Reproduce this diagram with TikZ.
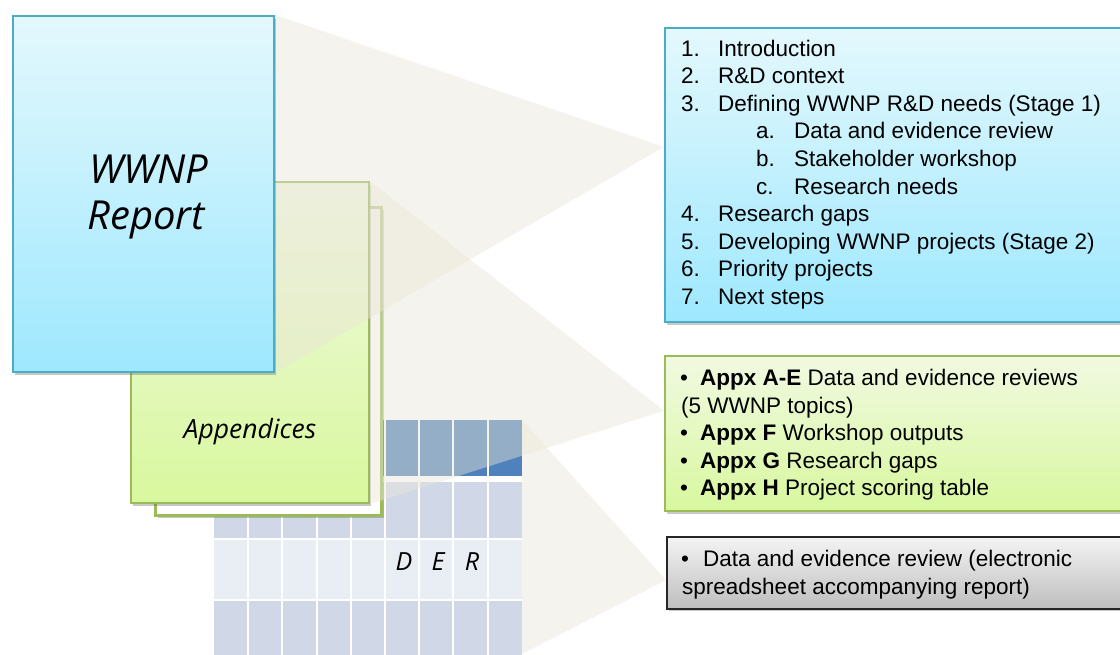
\documentclass[tikz,border=0pt]{standalone}
\usepackage{fontspec}
\setmainfont{Liberation Sans}
\newfontfamily\handfont{Open Sans}
\usetikzlibrary{shadows,calc}
\definecolor{repTop}{HTML}{E4F8FD}
\definecolor{repBot}{HTML}{9EE8FE}
\definecolor{repLine}{HTML}{4BACC6}
\definecolor{grnTop}{HTML}{F1F9E2}
\definecolor{grnBot}{HTML}{D8F89E}
\definecolor{grnLine}{HTML}{9BBB59}
\definecolor{gryTop}{HTML}{F4F4F4}
\definecolor{gryBot}{HTML}{BEBEBE}
\definecolor{hdrBlue}{HTML}{4F81BD}
\definecolor{rowA}{HTML}{D0D8E8}
\definecolor{rowB}{HTML}{E9EDF4}
\definecolor{beamCol}{RGB}{233,229,215}
\pgfdeclarelayer{back}
\pgfdeclarelayer{beamlayer}
\pgfsetlayers{back,beamlayer,main}
\begin{document}
\begin{tikzpicture}[x=1pt,y=-1pt,
  shade/.style={drop shadow={shadow xshift=2pt,shadow yshift=-2.5pt,opacity=0.3,fill=black!70}},
  repbox/.style={rectangle,draw=repLine,line width=2pt,top color=repTop,bottom color=repBot,shade,inner sep=0},
  grnbox/.style={rectangle,draw=grnLine,line width=2pt,top color=grnTop,bottom color=grnBot,shade,inner sep=0},
  backbox/.style={rectangle,draw=grnLine,line width=3pt,fill=white,shade,inner sep=0},
  grybox/.style={rectangle,draw=black!85,line width=1.5pt,top color=gryTop,bottom color=gryBot,shade,inner sep=0},
  beam/.style={fill=beamCol,fill opacity=0.45},
  hand/.style={font=\handfont\itshape\fontsize{40}{46}\selectfont,inner sep=0,anchor=base},
  handsm/.style={font=\handfont\itshape\fontsize{25}{29}\selectfont,inner sep=0,anchor=base},
  txt/.style={font=\fontsize{22.5}{27}\selectfont,inner sep=0,anchor=base west},
  cellline/.style={white,line width=2pt}
]
\useasboundingbox (0,0) rectangle (1120,654);
\clip (0,0) rectangle (1120,654);

\begin{pgfonlayer}{back}
  % spreadsheet
  \fill[hdrBlue] (214,420) rectangle (522,476);
  \fill[rowA] (214,482) rectangle (522,538);
  \fill[rowB] (214,540) rectangle (522,599);
  \fill[rowA] (214,601) rectangle (522,660);
  \foreach \i in {1,...,8}
    \draw[cellline] ({214+34.2*\i},418) -- ({214+34.2*\i},660);
  \coordinate (gridTR) at (522,420);
  \coordinate (gridBR) at (522,654);
  \node[handsm] (derD) at (404,570) {D};
  \node[handsm] (derE) at (438,570) {E};
  \node[handsm] (derR) at (472,570) {R};
  % appendices
  \node[backbox,anchor=north west,minimum width=226,minimum height=308] (appxback) at (154,206) {};
  \node[grnbox,anchor=north west,minimum width=238,minimum height=321] (appx) at (130,181) {};
  \node[handsm,font=\handfont\itshape\fontsize{26.5}{30}\selectfont] (appxlbl) at (250,438) {Appendices};
\end{pgfonlayer}

% report
\node[repbox,anchor=north west,minimum width=261,minimum height=356] (report) at (12,15) {};
\node[hand] (rep1) at (149,183) {WWNP};
\node[hand] (rep2) at (146,229) {Report};

% right boxes
\node[repbox,anchor=north west,minimum width=480,minimum height=294] (toc) at (664,27) {};
\node[grnbox,anchor=north west,minimum width=480,minimum height=155] (appxbox) at (664,355) {};
\node[grybox,anchor=north west,minimum width=480,minimum height=72] (der) at (666,536) {};

% TOC text
\node[txt] (n1) at (681,56) {1.};   \node[txt] (t1) at (718,56) {Introduction};
\node[txt] (n2) at (681,83.6) {2.}; \node[txt] (t2) at (718,83.6) {R\&D context};
\node[txt] (n3) at (681,111.2) {3.}; \node[txt] (t3) at (718,111.2) {Defining WWNP R\&D needs (Stage 1)};
\node[txt] (n3a) at (756,138.8) {a.}; \node[txt] (t3a) at (794,138.8) {Data and evidence review};
\node[txt] (n3b) at (756,166.4) {b.}; \node[txt] (t3b) at (794,166.4) {Stakeholder workshop};
\node[txt] (n3c) at (756,194) {c.}; \node[txt] (t3c) at (794,194) {Research needs};
\node[txt] (n4) at (681,221.6) {4.}; \node[txt] (t4) at (718,221.6) {Research gaps};
\node[txt] (n5) at (681,249.2) {5.}; \node[txt] (t5) at (718,249.2) {Developing WWNP projects (Stage 2)};
\node[txt] (n6) at (681,276.8) {6.}; \node[txt] (t6) at (718,276.8) {Priority projects};
\node[txt] (n7) at (681,304.4) {7.}; \node[txt] (t7) at (718,304.4) {Next steps};

% appendices text
\node[txt] (b1) at (680,385) {\textbullet}; \node[txt] (a1) at (700,385) {\textbf{Appx A-E} Data and evidence reviews};
\node[txt] (a1b) at (681,413) {(5 WWNP topics)};
\node[txt] (b2) at (680,440.5) {\textbullet}; \node[txt] (a2) at (700,440.5) {\textbf{Appx F} Workshop outputs};
\node[txt] (b3) at (680,468) {\textbullet}; \node[txt] (a3) at (700,468) {\textbf{Appx G} Research gaps};
\node[txt] (b4) at (680,495.5) {\textbullet}; \node[txt] (a4) at (700,495.5) {\textbf{Appx H} Project scoring table};

% DER text
\node[txt] (b5) at (681,566.5) {\textbullet}; \node[txt] (d1) at (703,566.5) {Data and evidence review (electronic};
\node[txt] (d2) at (682,594) {spreadsheet accompanying report)};

% beams
\begin{pgfonlayer}{beamlayer}
  \fill[beam] (report.north east) -- (report.south east) -- ($(toc.north west)!0.405!(toc.south west)$) -- cycle;
  \fill[beam] (appx.north east) -- (appx.south east) -- ($(appxbox.north west)!0.355!(appxbox.south west)$) -- cycle;
  \fill[beam] (gridTR) -- (gridBR) -- ($(der.north west)!0.6!(der.south west)$) -- cycle;
\end{pgfonlayer}
\end{tikzpicture}
\end{document}
